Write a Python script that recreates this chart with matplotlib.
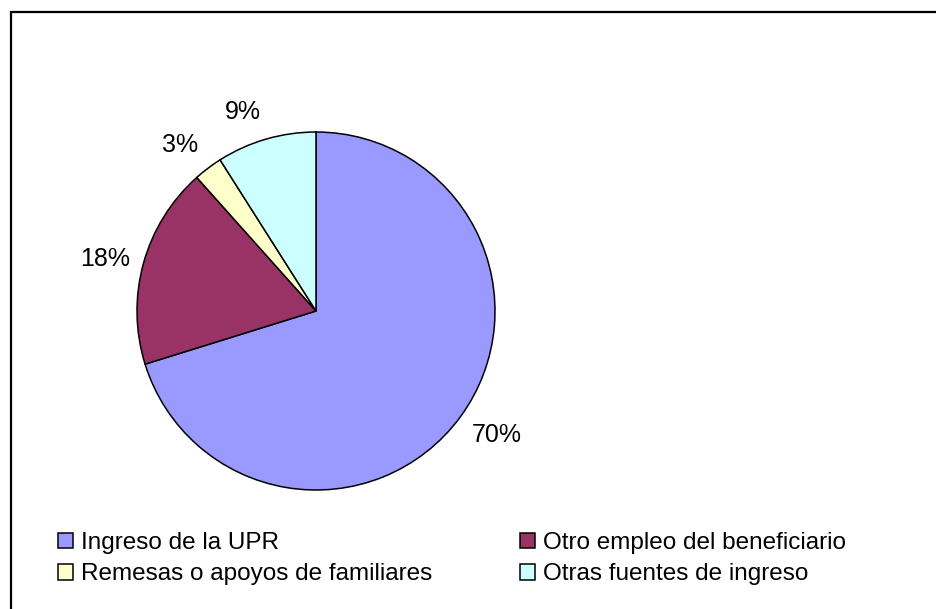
import matplotlib.pyplot as plt
from matplotlib.patches import Rectangle

plt.rcParams['font.family'] = ['Liberation Sans', 'DejaVu Sans']

# Data
categories = ['Ingreso de la UPR', 'Otro empleo del beneficiario',
              'Remesas o apoyos de familiares', 'Otras fuentes de ingreso']
shares = [70.2, 18.2, 2.6, 9.0]
colors = ['#9999FF', '#993366', '#FFFFCC', '#CCFFFF']

# where the percentage labels sit, in pie-radius units
label_pos = [(1.01, -0.69), (-1.18, 0.29), (-0.76, 0.93), (-0.41, 1.11)]

W, H = 937, 609
fig = plt.figure(figsize=(W / 100, H / 100), dpi=100)

# outer chart frame (right and bottom edges fall outside the image)
fig.patches.append(Rectangle((11 / W, -0.1), 1.1, 1 - 12 / H + 0.1,
                             transform=fig.transFigure, fill=False,
                             edgecolor='black', linewidth=1.6))

# pie axes, centred at (316, 311) px with radius 179 px
cx, cy, r = 316 / W, 1 - 311 / H, 179
ax = fig.add_axes([cx - r / W, cy - r / H, 2 * r / W, 2 * r / H])
wedges, texts, autotexts = ax.pie(
    shares, colors=colors, startangle=90, counterclock=False,
    autopct='%.0f%%', pctdistance=1.2,
    wedgeprops=dict(edgecolor='black', linewidth=1.1),
    textprops=dict(fontsize=18, color='black'))
for t, pos in zip(autotexts, label_pos):
    t.set_position(pos)
ax.set_xlim(-1, 1)
ax.set_ylim(-1, 1)
ax.set_aspect('equal')
ax.axis('off')

# legend: two rows, two columns
order = [0, 2, 1, 3]
fig.legend([wedges[i] for i in order], [categories[i] for i in order],
           ncol=2, loc='upper left', bbox_to_anchor=(41 / W, 1 - 515 / H),
           frameon=False, fontsize=17.5, handlelength=0.62, handleheight=0.62,
           handletextpad=0.33, columnspacing=3.6, labelspacing=0.38,
           borderpad=0.2)

fig.savefig('out.png', dpi=100)
